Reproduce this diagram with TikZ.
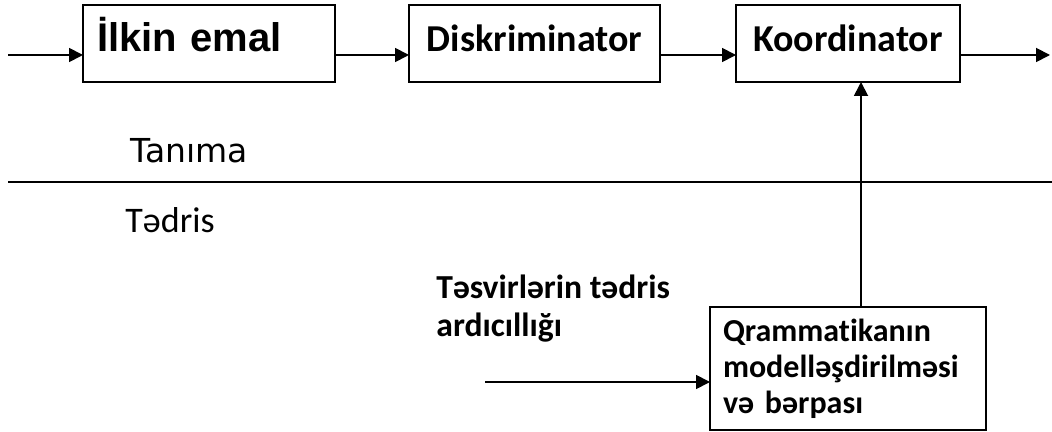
\documentclass[tikz,border=0pt]{standalone}
\usepackage{fontspec}
\usepackage{tikz}
\usetikzlibrary{arrows.meta, positioning}
\newfontfamily\carlitofont{Carlito}[Ligatures=NoCommon]
\newfontfamily\libsansfont{Liberation Sans}
\newfontfamily\dejavufont{DejaVu Sans}
\tikzset{box/.style={rectangle,draw,line width=1pt,outer sep=0pt,minimum height=38.5pt},toprow/.style={box,text height=13pt,text depth=4.5pt},line/.style={-{Triangle[length=7pt,width=7pt]},line width=0.9pt}}

\begin{document}
\begin{tikzpicture}[x=0.5pt,y=-0.5pt,node distance=37pt]
\useasboundingbox (0,0) rectangle (1052,432);
% recognition row
\node[toprow, minimum width=126pt, text width=112pt, inner xsep=7pt, align=left, font=\libsansfont\bfseries\fontsize{20}{24}\selectfont] (ilkin) at (209,43.5) {İlkin emal};
\node[toprow, right=of ilkin, minimum width=125.5pt, font=\carlitofont\bfseries\fontsize{19}{23}\selectfont] (disk) {Diskriminator};
\node[toprow, right=38pt of disk, minimum width=112pt, font=\carlitofont\bfseries\fontsize{19}{23}\selectfont] (koord) {Koordinator};
% training part
\node[box, below=112.5pt of koord, minimum width=138pt, minimum height=61.5pt, text width=125pt, inner xsep=6.5pt, align=left, font=\carlitofont\bfseries\fontsize{16}{18}\selectfont] (qram) {Qrammatikanın\\modelləşdirilməsi\\və bərpası};
\node[anchor=base west, inner sep=0pt, font=\dejavufont\fontsize{16.5}{20}\selectfont] (tanima) at (130,163) {Tanıma};
\node[anchor=base west, inner sep=0pt, font=\carlitofont\fontsize{18}{22}\selectfont] (tedris) at (125,233) {Tədris};
\node[anchor=north west, inner sep=0pt, align=left, font=\carlitofont\bfseries\fontsize{16.8}{19}\selectfont] (tesvir) at (436,275) {Təsvirlərin tədris\\ardıcıllığı};
\coordinate (src) at (8,55);
\coordinate (dst) at (1050,55);
\coordinate (seq) at (485,382);
\draw[line width=0.9pt] (8,182) -- (1052,182);
\draw[line] (src) -- (src -| ilkin.west);
\draw[line] (ilkin.east |- src) -- (disk.west |- src);
\draw[line] (disk.east |- src) -- (koord.west |- src);
\draw[line] (koord.east |- src) -- (dst);
\draw[line] ([xshift=6.5pt]qram.north) -- ([xshift=6.5pt]koord.south);
\draw[line] (seq) -- (seq -| qram.west);
\end{tikzpicture}
\end{document}
